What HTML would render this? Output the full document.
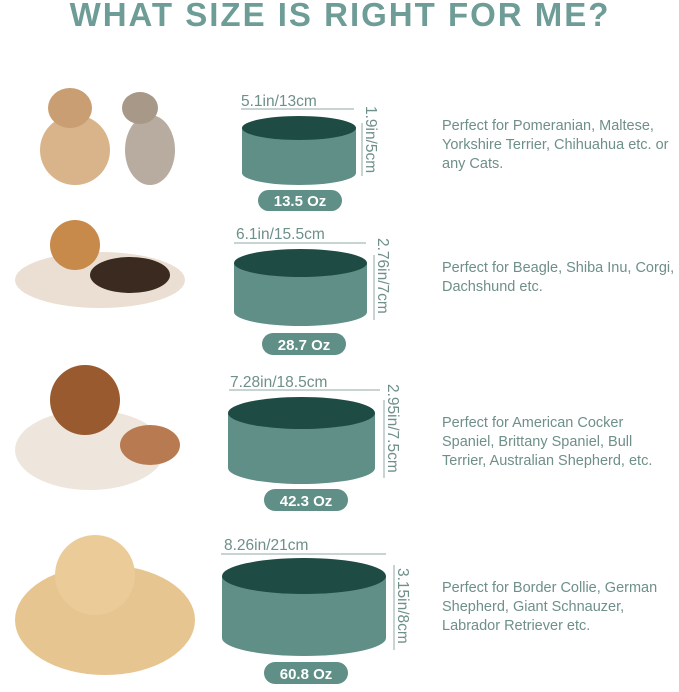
<!DOCTYPE html>
<html><head><style>
body{margin:0;width:679px;height:687px;background:#fff;overflow:hidden;font-family:"Liberation Sans",sans-serif}
</style></head><body>
<svg width="679" height="687" viewBox="0 0 679 687" xmlns="http://www.w3.org/2000/svg" font-family="Liberation Sans, sans-serif">
<text x="340" y="26" text-anchor="middle" font-size="33" font-weight="bold" fill="#6e9c96" letter-spacing="2">WHAT SIZE IS RIGHT FOR ME?</text>

<g>
<ellipse cx="75" cy="150" rx="35" ry="35" fill="#d9b48a"/><ellipse cx="70" cy="108" rx="22" ry="20" fill="#c99e72"/>
<ellipse cx="150" cy="150" rx="25" ry="35" fill="#b8aca0"/><ellipse cx="140" cy="108" rx="18" ry="16" fill="#a89888"/>
<ellipse cx="100" cy="280" rx="85" ry="28" fill="#eadfd2"/><ellipse cx="130" cy="275" rx="40" ry="18" fill="#3a2a20"/><ellipse cx="75" cy="245" rx="25" ry="25" fill="#c88a4a"/>
<ellipse cx="90" cy="450" rx="75" ry="40" fill="#eee6dc"/><ellipse cx="85" cy="400" rx="35" ry="35" fill="#9a5a30"/><ellipse cx="150" cy="445" rx="30" ry="20" fill="#b87a50"/>
<ellipse cx="105" cy="620" rx="90" ry="55" fill="#e6c590"/><ellipse cx="95" cy="575" rx="40" ry="40" fill="#ebcc98"/>
</g>

<g fill="#5f8f86" stroke="none">
<path d="M242 128 L242 173 A57 12 0 0 0 356 173 L356 128 Z"/>
<ellipse cx="299" cy="128" rx="57" ry="12" fill="#1f4b45"/>
<rect x="258" y="190" width="84" height="21" rx="10.5"/>
<path d="M234 263 L234 312 A66.5 14 0 0 0 367 312 L367 263 Z"/>
<ellipse cx="300.5" cy="263" rx="66.5" ry="14" fill="#1f4b45"/>
<rect x="262" y="333" width="84" height="22" rx="11"/>
<path d="M228 413 L228 468 A73.5 16 0 0 0 375 468 L375 413 Z"/>
<ellipse cx="301.5" cy="413" rx="73.5" ry="16" fill="#1f4b45"/>
<rect x="264" y="489" width="84" height="22" rx="11"/>
<path d="M222 576 L222 638 A82 18 0 0 0 386 638 L386 576 Z"/>
<ellipse cx="304" cy="576" rx="82" ry="18" fill="#1f4b45"/>
<rect x="264" y="662" width="84" height="22" rx="11"/>
</g>
<g fill="#fff" font-size="15" font-weight="bold" text-anchor="middle">
<text x="300" y="206">13.5 Oz</text><text x="304" y="350">28.7 Oz</text>
<text x="306" y="506">42.3 Oz</text><text x="306" y="679">60.8 Oz</text>
</g>
<g stroke="#8fa9a5" stroke-width="1">
<line x1="241" y1="109" x2="354" y2="109"/><line x1="362" y1="123" x2="362" y2="176"/>
<line x1="234" y1="243" x2="366" y2="243"/><line x1="374" y1="255" x2="374" y2="320"/>
<line x1="229" y1="390" x2="380" y2="390"/><line x1="384" y1="400" x2="384" y2="478"/>
<line x1="221" y1="554" x2="386" y2="554"/><line x1="394" y1="565" x2="394" y2="650"/>
</g>
<g fill="#6e8f8a" font-size="15.5">
<text x="241" y="106">5.1in/13cm</text>
<text x="236" y="239">6.1in/15.5cm</text>
<text x="230" y="387">7.28in/18.5cm</text>
<text x="224" y="550">8.26in/21cm</text>
<text transform="translate(366,106) rotate(90)">1.9in/5cm</text>
<text transform="translate(378,238) rotate(90)">2.76in/7cm</text>
<text transform="translate(388,384) rotate(90)">2.95in/7.5cm</text>
<text transform="translate(398,568) rotate(90)">3.15in/8cm</text>
</g>
<g fill="#6e8f8a" font-size="14.5">
<text x="442" y="130">Perfect for Pomeranian, Maltese,</text>
<text x="442" y="149">Yorkshire Terrier, Chihuahua etc. or</text>
<text x="442" y="168">any Cats.</text>
<text x="442" y="272">Perfect for Beagle, Shiba Inu, Corgi,</text>
<text x="442" y="291">Dachshund etc.</text>
<text x="442" y="427">Perfect for American Cocker</text>
<text x="442" y="446">Spaniel, Brittany Spaniel, Bull</text>
<text x="442" y="465">Terrier, Australian Shepherd, etc.</text>
<text x="442" y="592">Perfect for Border Collie, German</text>
<text x="442" y="611">Shepherd, Giant Schnauzer,</text>
<text x="442" y="630">Labrador Retriever etc.</text>
</g>
</svg>
</body></html>
